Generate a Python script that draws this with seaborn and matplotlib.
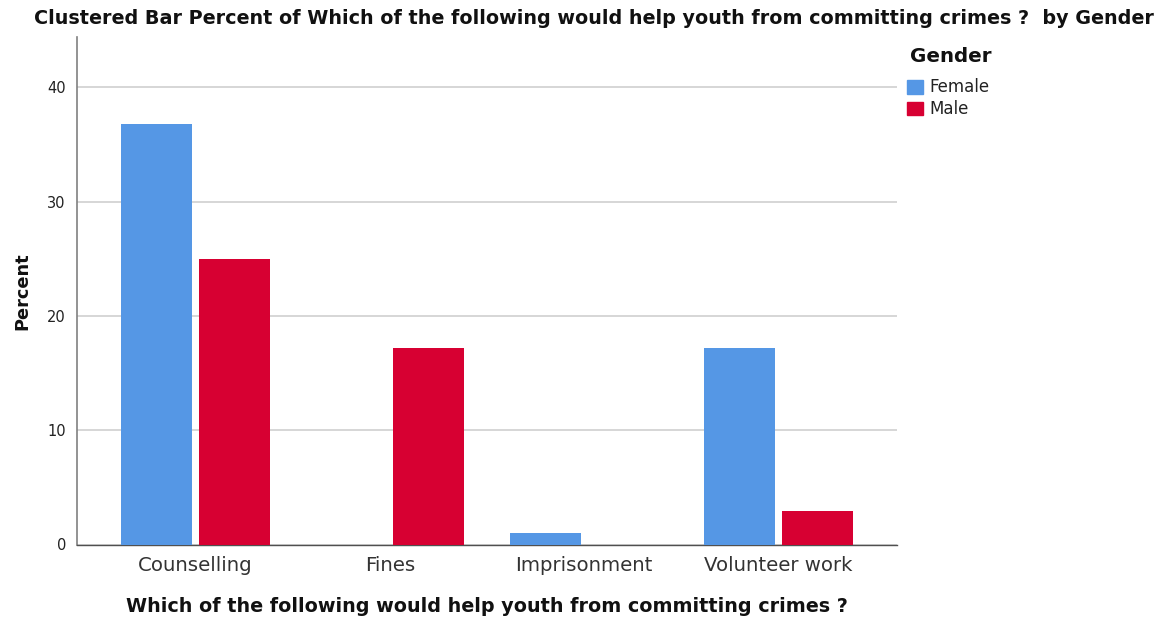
import matplotlib
matplotlib.use("Agg")
import matplotlib.pyplot as plt
import pandas as pd
import seaborn as sns

# data
categories = ["Counselling", "Fines", "Imprisonment", "Volunteer work"]
female_pct = [36.8, 0.0, 1.0, 17.2]
male_pct = [25.0, 17.2, 0.0, 2.9]
genders = ["Female", "Male"]
y_ticks = [0, 10, 20, 30, 40]

df = pd.DataFrame({
    "Category": categories * 2,
    "Gender": ["Female"] * len(categories) + ["Male"] * len(categories),
    "Percent": female_pct + male_pct,
})

sns.set_style("white")
plt.rcParams['font.family'] = ['DejaVu Sans']
plt.rcParams['text.color'] = "#111111"
plt.rcParams['axes.labelcolor'] = "#111111"

fig = plt.figure(figsize=(11.6, 6.19), dpi=100)
ax = fig.add_axes([77 / 1160, 1 - 544.5 / 619, (897 - 77) / 1160, (544.5 - 37) / 619])

palette = {"Female": "#5597E5", "Male": "#D70032"}
sns.barplot(data=df, x="Category", y="Percent", hue="Gender", hue_order=genders,
            palette=palette, width=0.8, gap=0.09, saturation=1,
            edgecolor="none", ax=ax, legend=False, zorder=3)

ax.set_ylim(0, 44.4)
ax.set_xlim(-0.61, 3.61)
ax.set_yticks(y_ticks)
ax.yaxis.grid(True, color="#cfcfcf", linewidth=1.2, zorder=0)
ax.set_axisbelow(True)

for side in ["top", "right"]:
    ax.spines[side].set_visible(False)
ax.spines["left"].set_color("#808080")
ax.spines["bottom"].set_color("#505050")
ax.spines["left"].set_linewidth(1.2)
ax.spines["bottom"].set_linewidth(1.0)

ax.tick_params(axis="y", length=0, labelsize=10.5, pad=8, labelcolor="#222222")
ax.tick_params(axis="x", length=0, pad=8, labelsize=14.2, labelcolor="#333333")

ax.set_xlabel("Which of the following would help youth from committing crimes ?",
              fontsize=13.75, fontweight="bold", labelpad=16)
ax.set_ylabel("Percent", fontsize=12.8, fontweight="bold", labelpad=11)

fig.suptitle("Clustered Bar Percent of Which of the following would help youth from committing crimes ?  by Gender",
             x=594 / 1160, y=1 - 19 / 619, va="center", fontsize=13.8, fontweight="bold")

# legend on the right
fig.text(910 / 1160, 1 - 57 / 619, "Gender", fontsize=14.3, fontweight="bold", va="center")
for i, g in enumerate(genders):
    yc = 87 + i * 21.5
    fig.patches.append(plt.Rectangle((907 / 1160, 1 - (yc + 6.5) / 619), 16 / 1160, 13 / 619,
                                     transform=fig.transFigure, color=palette[g], figure=fig))
    fig.text(929 / 1160, 1 - yc / 619, g, fontsize=12, va="center", color="#222222")

fig.savefig("out.png", dpi=100)
